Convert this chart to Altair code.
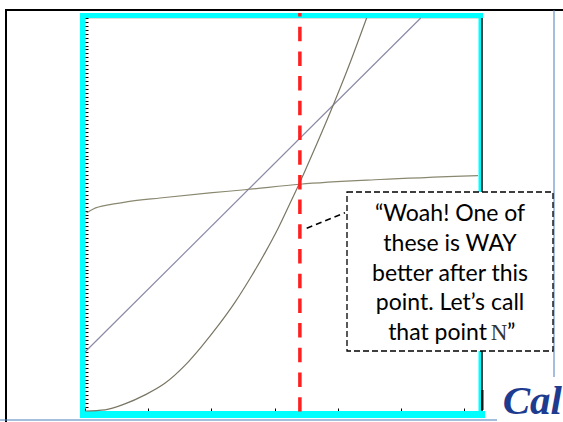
import altair as alt
import pandas as pd

# --- curve readings (x and y on a 0..100 scale) ---
lin_x = [0, 85]
lin_y = [15.0, 100]

log_x = [0.4, 2.1, 6.3, 10.5, 19.0, 31.6, 40.5, 54.4, 74.7, 99.5]
log_y = [50.4, 51.4, 52.5, 53.2, 54.2, 55.5, 56.3, 57.7, 58.9, 59.9]

quad_x = [0, 5.1, 10.1, 15.2, 20.3, 25.3, 29.5, 33.7, 38.0, 42.2, 45.6,
          48.9, 52.3, 54.0, 55.3, 58.7, 62.9, 66.3, 71.3]
quad_y = [0, 0.3, 1.8, 4.1, 7.1, 11.6, 16.4, 21.7, 27.7, 34.4, 40.3,
          46.5, 53.7, 57.3, 60.2, 68.0, 78.0, 86.5, 100]

n_point = [54.4]
tick_values = list(range(0, 101))

callout_lines = ["\u201cWoah! One of", "these is WAY", "better after this", "point. Let\u2019s call"]
callout_last = ["that point", "N", "\u201d"]
logo_text = "Cal"

series = (
    [{"s": "linear", "x": a, "y": b, "o": i} for i, (a, b) in enumerate(zip(lin_x, lin_y))]
    + [{"s": "log", "x": a, "y": b, "o": i} for i, (a, b) in enumerate(zip(log_x, log_y))]
    + [{"s": "quad", "x": a, "y": b, "o": i} for i, (a, b) in enumerate(zip(quad_x, quad_y))]
)
df = pd.DataFrame(series)
one = pd.DataFrame({"k": [0]})

W, H = 395, 393

xs = alt.Scale(domain=[0, 100], nice=False, zero=False)
ys = alt.Scale(domain=[0, 100], nice=False, zero=False)


def band(x0, x1, y0, y1, color):
    return alt.Chart(one).mark_rect(color=color, opacity=1).encode(
        x=alt.value(x0), x2=alt.value(x1), y=alt.value(y0), y2=alt.value(y1))


# slide border lines and the cyan frame round the plot
frame = [
    band(-80, 478, -9, -7, "#000000"),
    band(-80, -78, -9, 404, "#000000"),
    band(-85, 412, 401.5, 402.5, "#4a7ebb"),
    band(468.5, 469.5, -8, 359, "#4a7ebb"),
    band(-5, 0, -5, 400, "#00ffff"),
    band(-5, 398, -5, 0, "#00ffff"),
    band(393.5, 396, 0, 393, "#00ffff"),
    band(396, 398, 0, 393, "#444444"),
    band(396, 398.5, 372, 392, "#111111"),
    band(-5, 400, 393, 400, "#00ffff"),
]

tick_axis = dict(values=tick_values, labels=False, domain=False, grid=False, title=None,
                 tickSize=3, offset=-3, tickColor="#000000", tickWidth=1)

curves = alt.Chart(df).mark_line(strokeWidth=1.2, interpolate="monotone").encode(
    x=alt.X("x:Q", scale=xs, axis=alt.Axis(**tick_axis)),
    y=alt.Y("y:Q", scale=ys, axis=alt.Axis(**tick_axis)),
    color=alt.Color("s:N", scale=alt.Scale(domain=["linear", "log", "quad"],
                    range=["#8a8aa6", "#8a8870", "#7a7664"]), legend=None),
    order="o:Q",
    detail="s:N",
)

n_rule = alt.Chart(pd.DataFrame({"n": n_point})).mark_rule(
    color="#ff1f1f", strokeWidth=3.5, strokeDash=[14.5, 10.2], strokeDashOffset=11
).encode(x="n:Q", y=alt.value(-5), y2=alt.value(393.5))

connector = alt.Chart(one).mark_rule(color="#000000", strokeWidth=1.5, strokeDash=[6, 4]).encode(
    x=alt.value(221.7), y=alt.value(210.3), x2=alt.value(260), y2=alt.value(194.7))

box = alt.Chart(one).mark_rect(fill="#ffffff", stroke="#000000", strokeWidth=1.3,
                               strokeDash=[6, 3]).encode(
    x=alt.value(262), x2=alt.value(468), y=alt.value(174), y2=alt.value(333))

txt_font = "Lato"
body = alt.Chart(one).mark_text(text=callout_lines, font=txt_font, fontSize=23, align="center",
                                baseline="alphabetic", lineHeight=29.8, color="#000000").encode(
    x=alt.value(365), y=alt.value(203))
last_a = alt.Chart(one).mark_text(text=callout_last[0], font=txt_font, fontSize=23, align="right",
                                  baseline="alphabetic", color="#000000").encode(
    x=alt.value(402), y=alt.value(322))
last_b = alt.Chart(one).mark_text(text=callout_last[1], font="Liberation Serif", fontSize=23,
                                  align="center", baseline="alphabetic", color="#333333").encode(
    x=alt.value(414), y=alt.value(322))
last_c = alt.Chart(one).mark_text(text=callout_last[2], font=txt_font, fontSize=23, align="left",
                                  baseline="alphabetic", color="#000000").encode(
    x=alt.value(422), y=alt.value(322))

logo = alt.Chart(one).mark_text(text=logo_text, font="Liberation Serif", fontSize=41,
                                fontStyle="italic", fontWeight="bold", align="right",
                                baseline="alphabetic", color="#1d3b8f").encode(
    x=alt.value(477), y=alt.value(396))

chart = alt.layer(*frame, curves, n_rule, connector, box, body, last_a, last_b, last_c, logo).properties(
    width=W, height=H, autosize="none",
    padding={"left": 85, "top": 18, "right": 83, "bottom": 11},
).configure_view(stroke=None).configure(background="#ffffff")

chart.save("out.html", embed_options={"renderer": "svg", "actions": False})
